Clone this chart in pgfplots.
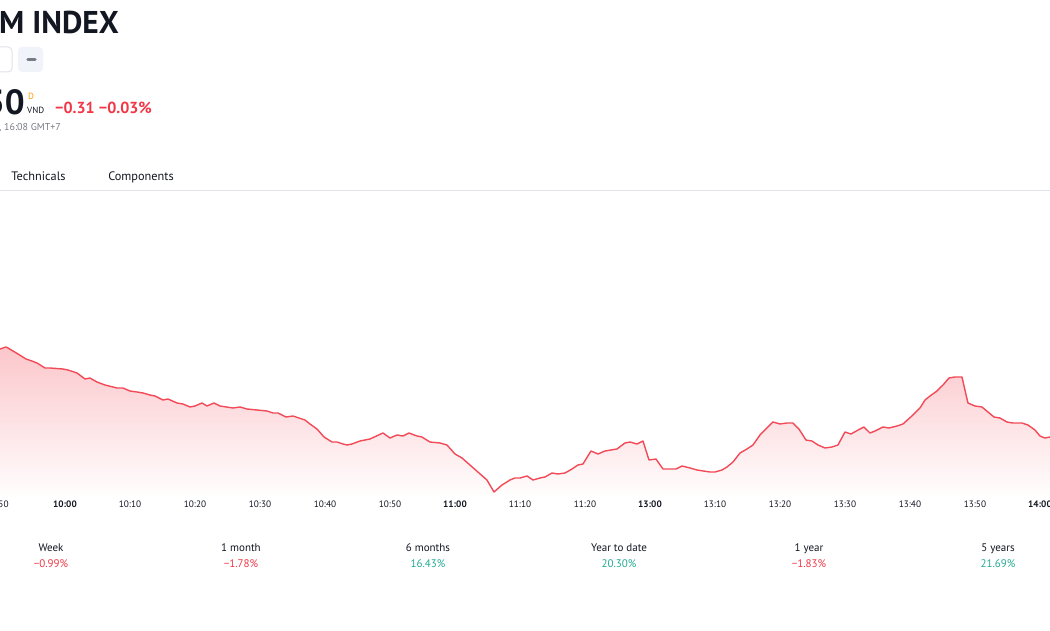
\documentclass[border=0pt]{standalone}
\usepackage{pgfplots}
\pgfplotsset{compat=1.18}
\usepackage{pgfplotstable}
\usepackage{fontspec}
\setmainfont{PT Sans}
\definecolor{tvred}{RGB}{242,54,69}
\definecolor{tvgreen}{RGB}{34,171,148}
\definecolor{tvtext}{RGB}{19,23,34}
\definecolor{tvgray}{RGB}{120,123,134}
\definecolor{tvline}{RGB}{224,227,235}
\definecolor{tvbtn}{RGB}{240,243,250}
\definecolor{tvorange}{RGB}{255,152,0}

% m = minutes of trading since 9:50 (lunch break 11:30-13:00 removed), v = relative level
\pgfplotstableread{
m v
0 146
0.92 148
1.23 147
2 144
2.77 141
4 136
4.92 134
5.69 132
6.92 127
7.69 127
9.69 126
10.46 125
11.85 122
13.08 116
13.85 117
14.92 113
16.15 110
18 107
18.92 107
20 104
21.08 103
22 102
23.08 100
23.85 99
25.08 95
25.85 96
27.23 92
28.15 91
29.23 88
30 89
31.08 92
31.85 89
32.92 92
33.85 89
35.85 87
36.92 88
38 86
41.08 84
42 82
42.77 82
44 78
45.08 79
46.92 75
47.69 71
48.77 66
49.85 58
51.08 53
51.85 53
52.77 51
53.38 50
54.15 51
55.38 54
56.92 56
58.92 62
60 57
61.08 60
62 59
62.92 62
64.15 59
64.92 58
66.15 53
67.69 52
68.77 50
70 41
71.08 37
74.92 15
76 3
77.23 10
78.46 15
79.23 17
80 17
81.08 19
82 15
83.08 17
83.85 18
84.92 22
85.85 21
86.92 22
88 26
88.92 30
89.69 31
90.92 44
92 41
93.08 44
94.92 46
96.15 52
96.92 53
98 51
98.92 54
99.85 35
100.92 36
102 26
104 26
104.92 29
106.15 27
107.23 25
109.23 23
110 23
111.08 25
111.85 28
112.77 33
113.85 42
114.92 46
115.85 50
116.92 60
118 67
118.92 73
120 71
121.08 72
122 72
122.92 66
124 55
124.92 54
125.85 50
126.92 47
128 48
128.92 50
130 63
130.92 61
132.31 66
132.92 68
133.85 62
134.62 64
135.85 68
136.77 67
138 69
138.92 71
140.46 80
141.54 87
142.31 95
143.08 99
144.15 104
145.08 110
146 117
146.92 118
148 118
148.92 92
150 89
151.08 88
152 83
152.92 78
153.85 77
154.92 73
155.85 72
157.23 72
158.15 70
159.23 65
160 59
160.77 57
161.54 58
}\intraday

\begin{document}
\begin{tikzpicture}[x=1pt,y=1pt]
\path[use as bounding box] (0,0) rectangle (1050,630);
\clip (0,0) rectangle (1050,630);
\fill[white] (0,0) rectangle (1050,630);

% header
\node[anchor=west, font=\fontsize{31.5}{34}\selectfont\bfseries, text=tvtext, inner sep=0] at (-1,607.5) {M INDEX};
\draw[tvline, fill=white, rounded corners=4pt, line width=1pt] (-12,583) rectangle (12,558);
\fill[tvbtn, rounded corners=4pt] (18,583) rectangle (43,558);
\draw[line width=3.5pt, line cap=round, color=tvgray] (28,570.5) -- (35,570.5);

\node[anchor=east, font=\fontsize{35}{38}\selectfont\bfseries, text=tvtext, inner sep=0] at (25,528) {50};
\node[font=\fontsize{9}{10}\selectfont, text=tvorange, inner sep=0] at (31,534) {D};
\node[anchor=west, font=\fontsize{9}{10}\selectfont, text=tvtext, inner sep=0] at (27,520) {VND};
\node[anchor=west, font=\fontsize{16}{18}\selectfont\bfseries, text=tvred, inner sep=0] at (55,522) {−0.31 −0.03\%};
\node[anchor=west, font=\fontsize{10}{12}\selectfont, text=tvgray, inner sep=0] at (-1,502) {, 16:08 GMT+7};

% tabs
\node[anchor=base, font=\fontsize{12.3}{14}\selectfont, text=tvtext, inner sep=0] at (38.5,449) {Technicals};
\node[anchor=base, font=\fontsize{12.3}{14}\selectfont, text=tvtext, inner sep=0] at (141,449) {Components};
\draw[tvline, line width=1pt] (0,439.5) -- (1050,439.5);

\begin{axis}[
  at={(0pt,135pt)}, anchor=south west,
  scale only axis, width=1050pt, height=300pt,
  xmin=0, xmax=161.54, ymin=0, ymax=300,
  axis x line=bottom, axis y line=none,
  axis line style={draw=none},
  major tick length=0pt,
  xtick={0,10,...,160},
  xticklabels={9:50,\textbf{10:00},10:10,10:20,10:30,10:40,10:50,\textbf{11:00},11:10,11:20,\textbf{13:00},13:10,13:20,13:30,13:40,13:50,\textbf{14:00}},
  xticklabel style={font=\fontsize{9.3}{10}\selectfont, text=tvtext, anchor=base, yshift=-12pt, inner sep=0pt},
]
\addplot[draw=none, top color=tvred!28!white, bottom color=tvred!1!white] table[x=m, y=v] {\intraday} \closedcycle;
\addplot[color=tvred!90!white, line width=1.4pt, line join=round, mark=none] table[x=m, y=v] {\intraday};
\end{axis}

% performance row
\foreach \cx/\name/\val/\col in {51/Week/−0.99\%/tvred, 241/1 month/−1.78\%/tvred, 428/6 months/16.43\%/tvgreen, 619/Year to date/20.30\%/tvgreen, 809/1 year/−1.83\%/tvred, 998/5 years/21.69\%/tvgreen}{
  \node[anchor=base, font=\fontsize{11}{13}\selectfont, text=tvtext, inner sep=0] at (\cx,79) {\name};
  \node[anchor=base, font=\fontsize{11}{13}\selectfont, text=\col, inner sep=0] at (\cx,63) {\val};
}
\end{tikzpicture}
\end{document}
